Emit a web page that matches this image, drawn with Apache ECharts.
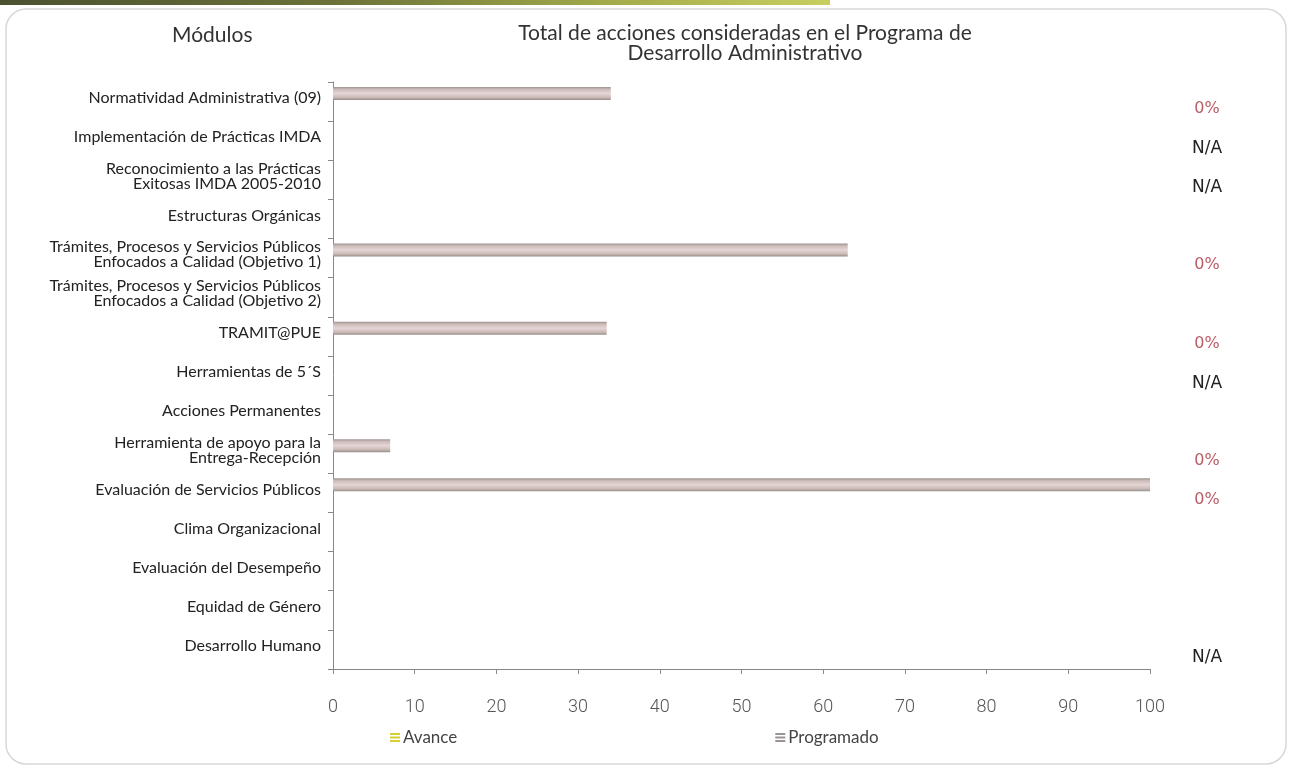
<!DOCTYPE html>
<html>
<head>
<meta charset="utf-8">
<script src="https://cdn.jsdelivr.net/npm/echarts@6/dist/echarts.min.js"></script>
<style>
html,body{margin:0;padding:0;background:#fff;}
#c{width:1291px;height:768px;}
</style>
</head>
<body>
<div id="c"></div>
<script>
const categories = [
  'Normatividad Administrativa (09)',
  'Implementación de Prácticas IMDA',
  'Reconocimiento a las Prácticas\nExitosas IMDA 2005-2010',
  'Estructuras Orgánicas',
  'Trámites, Procesos y Servicios Públicos\nEnfocados a Calidad (Objetivo 1)',
  'Trámites, Procesos y Servicios Públicos\nEnfocados a Calidad (Objetivo 2)',
  'TRAMIT@PUE',
  'Herramientas de 5´S',
  'Acciones Permanentes',
  'Herramienta de apoyo para la\nEntrega-Recepción',
  'Evaluación de Servicios Públicos',
  'Clima Organizacional',
  'Evaluación del Desempeño',
  'Equidad de Género',
  'Desarrollo Humano'
];
const programado = [34, null, null, null, 63, null, 33.5, null, null, 7, 100, null, null, null, null];
const avance = [0, null, null, null, 0, null, 0, null, null, 0, 0, null, null, null, null];
const estado = ['0%', 'N/A', 'N/A', '', '0%', '', '0%', 'N/A', '', '0%', '0%', '', '', '', 'N/A'];
const xTicks = [0, 10, 20, 30, 40, 50, 60, 70, 80, 90, 100];

const chart = echarts.init(document.getElementById('c'));
const barGrad = new echarts.graphic.LinearGradient(0, 0, 0, 1, [
  {offset: 0, color: '#9c928c'},
  {offset: 0.18, color: '#cbbbb9'},
  {offset: 0.5, color: '#e6d5d5'},
  {offset: 0.82, color: '#c8b8b5'},
  {offset: 1, color: '#958c87'}
]);
const stripeIcon = 'path://M0,0H10V2H0Z M0,3.5H10V5.5H0Z M0,7H10V9H0Z';
chart.setOption({
  animation: false,
  backgroundColor: '#fff',
  graphic: [
    {type: 'rect', shape: {x: 0, y: 0, width: 830, height: 5}, silent: true,
      style: {fill: new echarts.graphic.LinearGradient(0, 0, 1, 0, [
        {offset: 0, color: '#4c5130'}, {offset: 0.4, color: '#6b7138'},
        {offset: 0.75, color: '#a5ad4c'}, {offset: 1, color: '#c8cf60'}])}},
    {type: 'rect', shape: {x: 6, y: 9, width: 1280, height: 755, r: 20}, style: {fill: 'none', stroke: '#d8d8d8', lineWidth: 1.5}, silent: true, z: -10},
    {type: 'text', left: 172, top: 25, style: {text: 'Módulos', font: '21px Lato', fill: '#333'}}
  ],
  title: {
    text: 'Total de acciones consideradas en el Programa de\nDesarrollo Administrativo',
    left: 740, textAlign: 'center', top: 18,
    textStyle: {fontFamily: 'Lato', fontSize: 21, fontWeight: 'normal', color: '#333', lineHeight: 20}
  },
  legend: {
    bottom: 17, left: 385, itemGap: 318,
    itemWidth: 10, itemHeight: 10,
    textStyle: {fontFamily: 'Lato', fontSize: 17, color: '#444', padding: [0, 0, 0, -2]},
    data: [
      {name: 'Avance', icon: stripeIcon, itemStyle: {color: '#d8d030'}},
      {name: 'Programado', icon: stripeIcon, itemStyle: {color: '#9a9496'}}
    ]
  },
  grid: {left: 333, right: 141, top: 82, bottom: 99, containLabel: false},
  xAxis: {
    type: 'value', min: 0, max: 100, interval: 10,
    axisLine: {show: true, lineStyle: {color: '#888'}},
    axisTick: {show: true, length: 5, lineStyle: {color: '#888'}},
    splitLine: {show: false},
    axisLabel: {margin: 29, fontFamily: 'Roboto', fontWeight: 300, fontSize: 18, color: '#555',
      formatter: v => xTicks.includes(v) ? String(v) : ''}
  },
  yAxis: [{
    type: 'category', inverse: true, data: categories,
    axisLine: {show: true, lineStyle: {color: '#888'}},
    axisTick: {show: true, length: 5, lineStyle: {color: '#888'}},
    axisLabel: {margin: 12, interval: 0,
      formatter: v => v.split('\n').map(l => '{a|' + l + '}').join('\n') + '\n{s| }',
      rich: {
        a: {fontFamily: 'Lato', fontSize: 16, color: '#222', lineHeight: 15, align: 'right'},
        s: {fontSize: 1, lineHeight: 7}
      }}
  }, {
    type: 'category', inverse: true, data: estado, position: 'right',
    axisLine: {show: false}, axisTick: {show: false},
    axisLabel: {margin: 57, align: 'center', interval: 0,
      formatter: v => v === 'N/A' ? '{n|' + v + '}' : (v ? '{p|' + v + '}' : ''),
      rich: {
        n: {fontFamily: 'DejaVu Sans', fontSize: 17, color: '#222', padding: [16, 0, 0, 0]},
        p: {fontFamily: 'DejaVu Sans', fontSize: 16, color: '#bb5c66', padding: [14, 0, 0, 0]}
      }}
  }],
  series: [
    {name: 'Programado', type: 'bar', data: programado, barWidth: 13, barGap: '25%',
      itemStyle: {color: barGrad}},
    {name: 'Avance', type: 'bar', data: avance, barWidth: 13, barGap: '25%',
      itemStyle: {color: '#e6e04a'}}
  ]
});
</script>
</body>
</html>
